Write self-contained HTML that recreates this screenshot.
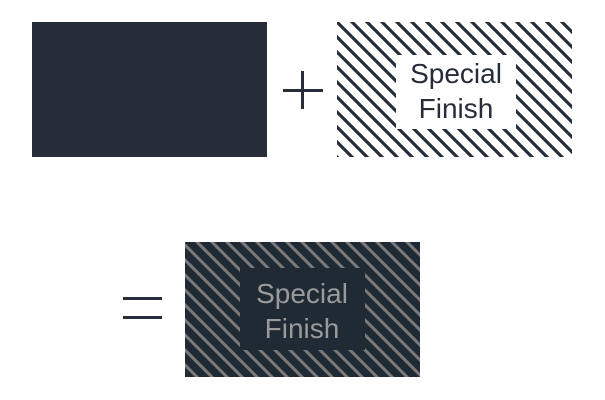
<!DOCTYPE html>
<html><head><style>html,body{margin:0;padding:0;background:#fff;width:605px;height:400px;overflow:hidden}</style></head>
<body>
<svg width="605" height="400" xmlns="http://www.w3.org/2000/svg">
<defs>
<pattern id="p1" x="0" y="0" width="15" height="15" patternUnits="userSpaceOnUse">
<path d="M-4,-4 L19,19 M-4,11 L4,19 M11,-4 L19,4" stroke="#262d38" stroke-width="3.2"/>
</pattern>
<pattern id="p2" x="0" y="0" width="15" height="15" patternUnits="userSpaceOnUse">
<path d="M-4,-4 L19,19 M-4,11 L4,19 M11,-4 L19,4" stroke="#7a7a7a" stroke-width="3"/>
</pattern>
</defs>
<rect x="32" y="22" width="235" height="135" fill="#262d38"/>
<rect x="283" y="89" width="40" height="3" fill="#262d38"/>
<rect x="301" y="71" width="3" height="38" fill="#262d38"/>
<rect x="337" y="22" width="235" height="135" fill="url(#p1)"/>
<rect x="396" y="55" width="120" height="74" fill="#fff"/>
<text x="456" y="83" font-family="Liberation Sans, sans-serif" font-size="28" fill="#262d38" text-anchor="middle">Special</text>
<text x="456" y="118" font-family="Liberation Sans, sans-serif" font-size="28" fill="#262d38" text-anchor="middle">Finish</text>
<rect x="123" y="297" width="39" height="3" fill="#262d38"/>
<rect x="123" y="316" width="39" height="3" fill="#262d38"/>
<rect x="185" y="242" width="235" height="135" fill="#1f2a35"/>
<rect x="185" y="242" width="235" height="135" fill="url(#p2)"/>
<rect x="240" y="268" width="125" height="82" fill="#1f2a35"/>
<text x="302" y="303" font-family="Liberation Sans, sans-serif" font-size="28" fill="#9a9a9a" text-anchor="middle">Special</text>
<text x="302" y="338" font-family="Liberation Sans, sans-serif" font-size="28" fill="#9a9a9a" text-anchor="middle">Finish</text>
</svg>
</body></html>
